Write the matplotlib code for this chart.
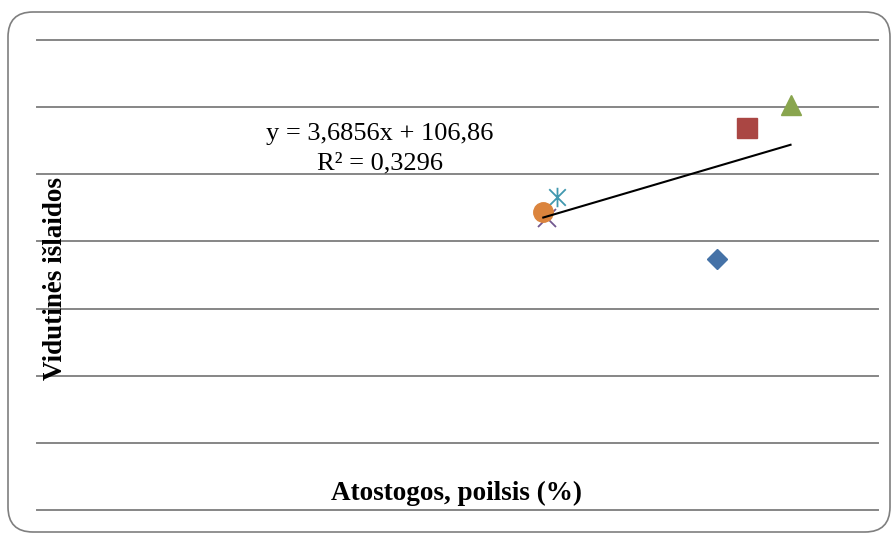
import matplotlib
matplotlib.use('Agg')
import matplotlib.pyplot as plt
import numpy as np
from matplotlib.patches import FancyBboxPatch
from matplotlib.path import Path

# Times-like font for the whole chart
plt.rcParams['font.family'] = ['Liberation Serif', 'DejaVu Serif']
plt.rcParams['font.size'] = 19

# ---------------------- data ----------------------
# one point per series: vacation/rest share (%) vs average expenses
series_x = [40.4, 42.2, 44.8, 30.3, 30.9, 30.1]
series_y = [186.6, 284.3, 301.5, 217.2, 232.8, 221.6]
series_colors = ['#4572A7', '#AA4643', '#89A54E', '#71588F', '#4198AF', '#DB843D']

# linear trendline as stated on the chart
slope = 3.6856
intercept = 106.86
eq_text = 'y = 3,6856x + 106,86\nR² = 0,3296'

x_label = 'Atostogos, poilsis (%)'
y_label = 'Vidutinės išlaidos'
y_ticks = [0, 50, 100, 150, 200, 250, 300, 350]

# asterisk marker: vertical bar plus an x
star = Path([(0, -1), (0, 1), (-0.85, -0.85), (0.85, 0.85), (-0.85, 0.85), (0.85, -0.85)],
            [Path.MOVETO, Path.LINETO, Path.MOVETO, Path.LINETO, Path.MOVETO, Path.LINETO])

marker_styles = [
    dict(marker='D', ms=10),
    dict(marker='s', ms=14),
    dict(marker='^', ms=14),
    dict(marker='x', ms=13, mew=1.3),
    dict(marker=star, ms=14, mew=1.3),
    dict(marker='o', ms=14),
]

fig = plt.figure(figsize=(8.94, 5.34), dpi=100)

# rounded chart border
frame = FancyBboxPatch((0.08, 0.02), 8.82, 5.20, boxstyle='round,pad=0,rounding_size=0.25',
                       transform=fig.dpi_scale_trans, facecolor='none',
                       edgecolor='#7f7f7f', linewidth=1.2, zorder=-1)
fig.patches.append(frame)

ax = fig.add_axes([37 / 894, 24 / 534, 841 / 894, 470 / 534])
ax.set_facecolor('none')
ax.set_xlim(0, 50)
ax.set_ylim(0, 350)
ax.set_yticks(y_ticks)
ax.set_xticks([])
ax.tick_params(axis='y', length=0, labelleft=False)
for s in ax.spines.values():
    s.set_visible(False)
ax.yaxis.grid(True, color='#868686', linewidth=1.4)
for gl in ax.get_ygridlines():
    gl.set_clip_on(False)
ax.set_axisbelow(True)

for xv, yv, c, st in zip(series_x, series_y, series_colors, marker_styles):
    if st['marker'] == 'x' or isinstance(st['marker'], Path):
        ax.plot([xv], [yv], linestyle='none', color=c, mfc='none', mec=c, zorder=3, **st)
    else:
        ax.plot([xv], [yv], linestyle='none', color=c, mec=c, zorder=3, **st)

# trendline across the data range
tx = np.array([min(series_x), max(series_x)])
ax.plot(tx, slope * tx + intercept, color='black', linewidth=1.5, zorder=4)

ax.text(20.4, 269, eq_text, ha='center', va='center', multialignment='center',
        fontsize=19, linespacing=1.45)

# axis titles sit inside the plot area
fig.text(457 / 894, 1 - 493 / 534, x_label, ha='center', va='center',
         fontsize=19.5, fontweight='bold')
fig.text(56 / 894, 1 - 279 / 534, y_label, ha='center', va='center',
         rotation=90, fontsize=19.5, fontweight='bold')

fig.savefig('out.png', dpi=100)
